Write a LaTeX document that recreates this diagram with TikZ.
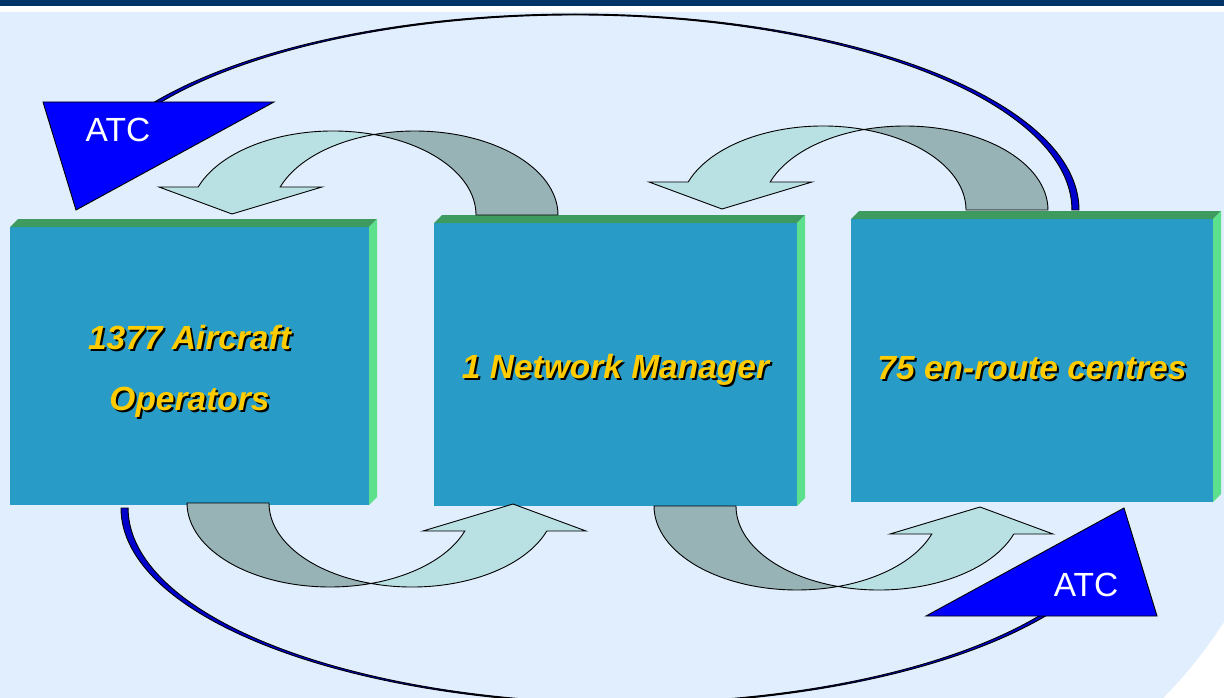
\documentclass[tikz,border=0pt]{standalone}
\usepackage{fontspec}
\setmainfont{Liberation Sans}
\usepackage{tikz}

\definecolor{barblue}{RGB}{0,51,102}
\definecolor{slidebg}{RGB}{224,238,253}
\definecolor{boxfront}{RGB}{40,156,199}
\definecolor{boxtop}{RGB}{62,155,96}
\definecolor{boxside}{RGB}{92,224,140}
\definecolor{arrowback}{RGB}{151,179,181}
\definecolor{arrowfront}{RGB}{185,224,227}
\definecolor{atcblue}{RGB}{0,0,255}
\definecolor{bandblue}{RGB}{0,0,204}
\definecolor{labelgold}{RGB}{255,204,0}

\newcommand{\boxfont}{\fontsize{33.5}{61}\selectfont\bfseries\itshape}
\newcommand{\atcfont}{\fontsize{33.5}{40}\selectfont}
\newcommand{\shadowed}[1]{\makebox[0pt][l]{\kern2pt\raisebox{-2pt}{\color{black}#1}}#1}

\tikzstyle{block} = [rectangle, inner sep=0pt, outer sep=0pt, fill=boxfront, text=labelgold, align=center, font=\boxfont]
\tikzstyle{topface} = [fill=boxtop]
\tikzstyle{sideface} = [fill=boxside]
\tikzstyle{backpart} = [fill=arrowback, draw=black, line width=0.9pt]
\tikzstyle{frontpart} = [fill=arrowfront, draw=black, line width=0.9pt]
\tikzstyle{atcband} = [fill=bandblue, draw=black, line width=0.9pt]
\tikzstyle{atchead} = [fill=atcblue, draw=black, line width=0.9pt]
\tikzstyle{atclabel} = [text=white, font=\atcfont, inner sep=0pt]

% curved block arrow, origin at the centre of its first arc
\tikzset{turnarrow/.pic={
  \draw[backpart] (143,0) arc[start angle=0, end angle=73.34, x radius=143pt, y radius=84pt]
    arc[start angle=106.66, end angle=0, x radius=143pt, y radius=84pt] -- cycle;
  \draw[frontpart] (-134.8,-28) arc[start angle=160.53, end angle=73.34, x radius=143pt, y radius=84pt]
    arc[start angle=106.66, end angle=160.53, x radius=143pt, y radius=84pt]
    -- (-11,-28) -- (-101,-1) -- (-174,-28) -- cycle;
}}

\begin{document}
\begin{tikzpicture}[x=1pt, y=-1pt]
% slide background
\useasboundingbox (0,0) rectangle (1224,698);
\clip (0,0) rectangle (1224,698);
\fill[white] (0,0) rectangle (1224,698);
\fill[barblue] (0,0) rectangle (1224,6.5);
\fill[slidebg] (0,12) -- (1224,12) -- (1224,622) .. controls (1207,648) and (1187,674) .. (1163,698) -- (0,698) -- cycle;

% ATC arrows, the lower one is the upper one turned round
\foreach \turn in {0,180}{
  \begin{scope}[rotate around={\turn:(600,359)}]
    \draw[atcband] (1079,210) arc[start angle=0, end angle=146.56, x radius=504pt, y radius=196pt]
      -- (161.1,102) arc[start angle=146.37, end angle=0, x radius=497pt, y radius=195pt] -- cycle;
    \draw[atchead] (43,102) -- (274,102) -- (76,210) -- cycle;
  \end{scope}
}
\node[atclabel] (atcA) at (118,130) {ATC};
\node[atclabel] (atcB) at (1086,585) {ATC};

% the three boxes
\node[block, minimum width=359pt, minimum height=278pt] (ao) at (189.5,366) {\rule{0pt}{36pt}\shadowed{1377 Aircraft}\\\shadowed{Operators}};
\node[block, minimum width=363pt, minimum height=283pt, text height=36pt] (nm) at (615.5,364.5) {\shadowed{1 Network Manager}};
\node[block, minimum width=362pt, minimum height=283pt, text height=40pt] (acc) at (1032,360.5) {\shadowed{75 en-route centres}};
\foreach \b in {ao,nm,acc}{
  \fill[topface] (\b.north west) -- ++(8,-8) -- ([shift={(8,-8)}]\b.north east) -- (\b.north east) -- cycle;
  \fill[sideface] (\b.north east) -- ++(8,-8) -- ([shift={(8,-8)}]\b.south east) -- (\b.south east) -- cycle;
}

% curved arrows between the boxes
\pic at (333,215) {turnarrow};
\pic at (823,210) {turnarrow};
\pic[rotate=180] at (412,503) {turnarrow};
\pic[rotate=180] at (879,506) {turnarrow};
\end{tikzpicture}
\end{document}
